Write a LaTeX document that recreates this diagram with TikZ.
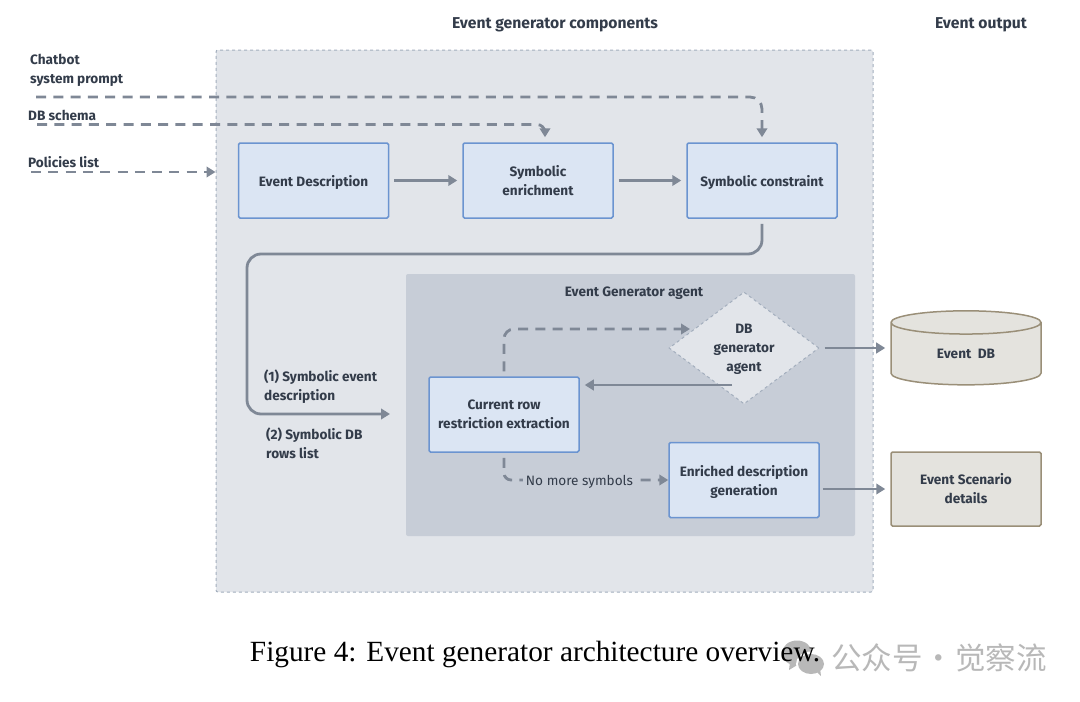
\documentclass[tikz,border=0pt]{standalone}
\usepackage{fontspec}
\setmainfont{Fira Sans}
\newfontfamily\captionfont{Liberation Serif}
\newfontfamily\cjkfont{Noto Sans CJK SC}
\usetikzlibrary{arrows.meta,shapes.geometric}
\definecolor{framefill}{HTML}{E2E5EA}
\definecolor{frameline}{HTML}{A3AEBD}
\definecolor{agentfill}{HTML}{C7CDD7}
\definecolor{boxfill}{HTML}{DBE5F3}
\definecolor{boxline}{HTML}{6B94D0}
\definecolor{tanfill}{HTML}{E4E3DE}
\definecolor{tanline}{HTML}{9A8F78}
\definecolor{inktext}{HTML}{333C4A}
\definecolor{flowline}{HTML}{7F8896}
\definecolor{markgrey}{HTML}{B8B8B8}
\tikzset{
  lbl/.style={font=\fontsize{13.6}{19}\selectfont\bfseries,text=inktext,align=left,inner sep=0pt},
  titlelbl/.style={lbl,font=\fontsize{15.7}{19}\selectfont\bfseries},
  stagebox/.style={lbl,align=center,draw=boxline,fill=boxfill,line width=1.5pt,rounded corners=1.5pt,minimum width=150pt,minimum height=75pt},
  tanbox/.style={lbl,align=center,draw=tanline,fill=tanfill,line width=1.5pt,rounded corners=1.5pt,minimum width=150pt,minimum height=74pt},
  flow/.style={draw=flowline,line width=2.8pt,-{Triangle[length=9pt,width=10.5pt]},shorten >=5pt,shorten <=5pt},
  dashflow/.style={flow,dash pattern=on 10pt off 7.3pt},
}
\begin{document}
\begin{tikzpicture}[x=1pt,y=-1pt]
  \useasboundingbox (0,0) rectangle (1080,702);
  % backdrops
  \node[draw=frameline,fill=framefill,dashed,line width=1pt,rounded corners=2pt,minimum width=657pt,minimum height=542pt,inner sep=0pt] (frame) at (544.5,321) {};
  \node[fill=agentfill,rounded corners=2pt,minimum width=449pt,minimum height=262pt,inner sep=0pt] (agent) at (630.5,405) {};
  % column titles
  \node[titlelbl] (comptitle) at (555,25) {Event generator components};
  \node[titlelbl] (outtitle) at (981,25) {Event output};
  \node[lbl] (agenttitle) at (634,293) {Event Generator agent};
  % input labels
  \node[lbl,anchor=west] (chatlbl) at (30,70) {Chatbot\\system prompt};
  \node[lbl,anchor=west] (schemalbl) at (28,115) {DB schema};
  \node[lbl,anchor=west] (policylbl) at (28,162) {Policies list};
  \node[lbl,anchor=west] (firstlbl) at (264,387) {(1) Symbolic event\\description};
  \node[lbl,anchor=west] (secondlbl) at (266,443) {(2) Symbolic DB\\rows list};
  % boxes
  \node[stagebox,text depth=0pt] (eventdesc) at (313.5,180.5) {Event Description};
  \node[stagebox] (enrich) at (538,180.5) {Symbolic\\enrichment};
  \node[stagebox,text depth=0pt] (constr) at (762,180.5) {Symbolic constraint};
  \node[stagebox] (rowbox) at (504,414.5) {Current row\\restriction extraction};
  \node[stagebox,text depth=0pt] (enrichgen) at (744,480) {Enriched description\\generation};
  \node[lbl,align=center,diamond,draw=frameline,fill=framefill,dashed,line width=1pt,aspect=1.34,minimum width=150pt,minimum height=112pt,text depth=0pt] (dbgen) at (744,348) {DB\\generator\\agent};
  \node[lbl,align=center,cylinder,shape border rotate=90,aspect=0.4,draw=tanline,fill=tanfill,line width=1.5pt,minimum width=150pt,minimum height=74pt] (eventdb) at (966,354) {Event\ \ DB};
  \node[tanbox] (scenario) at (966,489) {Event Scenario\\details};
  % free ends
  \coordinate (chatin) at (36,97);
  \coordinate (schemain) at (37,124.5);
  \coordinate (policyin) at (31,172);
  \coordinate (bendtop) at (247,254);
  \coordinate (agentin) at (395,414);
  \coordinate (dbin) at (695,329);
  \coordinate (dbout) at (737,385);
  % connectors
  \draw[dashflow,shorten <=0pt,rounded corners=12pt] (chatin) -| (constr.north);
  \draw[dashflow,shorten <=0pt,rounded corners=8pt] (schemain) -| ([xshift=7pt]enrich.north);
  \draw[dashflow,shorten <=0pt,shorten >=0pt] (policyin) -- (policyin -| frame.west);
  \draw[flow] (eventdesc) -- (enrich);
  \draw[flow] (enrich) -- (constr);
  \draw[flow,rounded corners=14pt] (constr.south) |- (bendtop) |- (agentin);
  \draw[dashflow,rounded corners=10pt] (rowbox.north) |- (dbin);
  \draw[flow] (dbout) -- (dbout -| rowbox.east);
  \draw[flow] (dbgen.east) -- (dbgen.east -| eventdb.west);
  \draw[flow,shorten <=3pt] (enrichgen.east |- scenario.west) -- (scenario.west);
  \draw[dashflow,shorten >=0pt,rounded corners=7pt] (rowbox.south) |- (enrichgen.west);
  \node[lbl,font=\fontsize{13.6}{19}\selectfont,fill=agentfill,inner xsep=3pt,inner ysep=2pt] (nomore) at (579.5,482) {No more symbols};
  % caption with the mark behind it
  \fill[markgrey] (797,653) ellipse (15pt and 12.5pt) (790,662) -- (789,670) -- (799,664) -- cycle;
  \fill[white] (811,664) ellipse (15pt and 12.5pt);
  \fill[markgrey] (811,664) ellipse (13pt and 10pt) (816,671) -- (821,676) -- (820,668) -- cycle;
  \node[font=\captionfont\fontsize{29.3}{32}\selectfont,text=black,inner sep=0pt] (caption) at (535,654) {Figure 4: Event generator architecture overview.};
  \node[font=\cjkfont\fontsize{30.5}{32}\selectfont,text=markgrey,inner sep=0pt] (mark) at (939,658) {公众号\hspace{1pt}·\hspace{1pt}觉察流};
\end{tikzpicture}
\end{document}
